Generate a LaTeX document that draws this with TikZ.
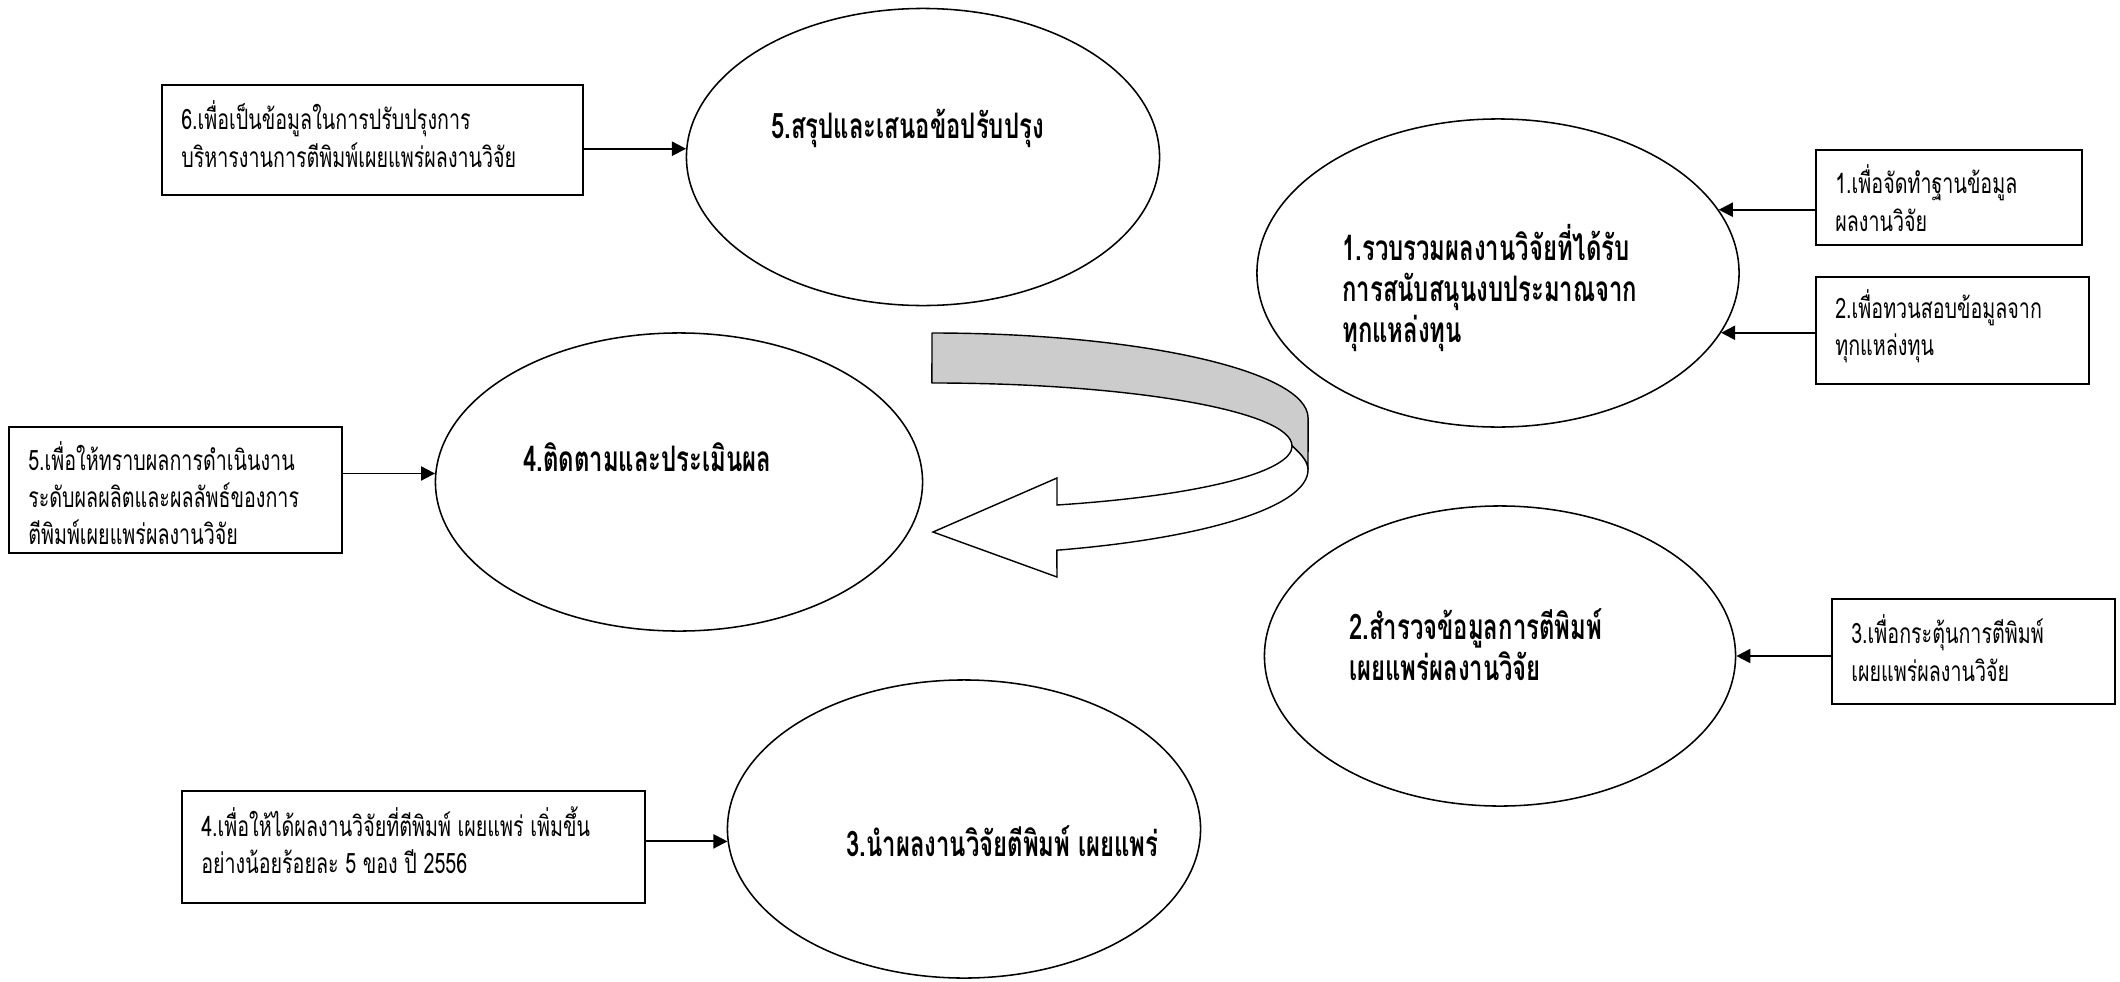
\documentclass[tikz,border=0pt]{standalone}
\usepackage{fontspec}
\setmainfont[Script=Thai]{Loma}
\newfontfamily\thai[Script=Thai,FakeStretch=0.70]{Loma}
\newfontfamily\thaibold[Script=Thai,FakeStretch=0.68]{Loma}
\usetikzlibrary{shapes.geometric,arrows.meta}
\begin{document}
\begin{tikzpicture}[x=0.025cm,y=0.025cm,
  ell/.style={draw, ellipse, line width=1.1pt, inner sep=0pt},
  obox/.style={draw, line width=1.5pt, inner sep=0pt},
  btxt/.style={anchor=west, align=left, inner sep=0pt, font=\thai\fontsize{20}{26.5}\selectfont},
  etxt/.style={anchor=west, align=left, inner sep=0pt, font=\thaibold\bfseries\fontsize{25}{29}\selectfont},
  conn/.style={line width=1.4pt, -{Triangle[length=10pt,width=10pt]}}]
\useasboundingbox (0,0) rectangle (2120,-981);

% ellipses
\node[ell, minimum width=11.825cm, minimum height=7.425cm] (E5) at (923,-157) {};
\node[ell, minimum width=12.05cm, minimum height=7.7cm] (E1) at (1498,-273) {};
\node[ell, minimum width=12.175cm, minimum height=7.45cm] (E4) at (679,-482) {};
\node[ell, minimum width=11.775cm, minimum height=7.5cm] (E2) at (1500,-656) {};
\node[ell, minimum width=11.825cm, minimum height=7.45cm] (E3) at (964,-829) {};

% boxes
\node[obox, minimum width=10.525cm, minimum height=2.75cm] (B6) at (372.5,-140) {};
\node[obox, minimum width=6.65cm, minimum height=2.375cm] (B1) at (1949,-197.5) {};
\node[obox, minimum width=6.825cm, minimum height=2.675cm] (B2) at (1952.5,-330.5) {};
\node[obox, minimum width=8.325cm, minimum height=3.15cm] (B5) at (175.5,-490) {};
\node[obox, minimum width=7.075cm, minimum height=2.625cm] (B3) at (1973.5,-651.5) {};
\node[obox, minimum width=11.575cm, minimum height=2.8cm] (B4) at (413.5,-847) {};

% box texts
\node[btxt] (T6) at (181,-134) {6.เพื่อเป็นข้อมูลในการปรับปรุงการ\\บริหารงานการตีพิมพ์เผยแพร่ผลงานวิจัย};
\node[btxt] (T1) at (1835,-198) {1.เพื่อจัดทำฐานข้อมูล\\ผลงานวิจัย};
\node[btxt] (T2) at (1835,-326) {2.เพื่อทวนสอบข้อมูลจาก\\ทุกแหล่งทุน};
\node[btxt] (T5) at (28,-493) {5.เพื่อให้ทราบผลการดำเนินงาน\\ระดับผลผลิตและผลลัพธ์ของการ\\ตีพิมพ์เผยแพร่ผลงานวิจัย};
\node[btxt] (T3) at (1851,-648) {3.เพื่อกระตุ้นการตีพิมพ์\\เผยแพร่ผลงานวิจัย};
\node[btxt] (T4) at (201,-840) {4.เพื่อให้ได้ผลงานวิจัยที่ตีพิมพ์ เผยแพร่ เพิ่มขึ้น\\อย่างน้อยร้อยละ 5 ของ ปี 2556};

% ellipse texts
\node[etxt] (L5) at (771,-128) {5.สรุปและเสนอข้อปรับปรุง};
\node[etxt] (L1) at (1342,-288) {1.รวบรวมผลงานวิจัยที่ได้รับ\\การสนับสนุนงบประมาณจาก\\ทุกแหล่งทุน};
\node[etxt] (L4) at (523,-457) {4.ติดตามและประเมินผล};
\node[etxt] (L2) at (1349,-645) {2.สำรวจข้อมูลการตีพิมพ์\\เผยแพร่ผลงานวิจัย};
\node[etxt] (L3) at (846,-841) {3.นำผลงานวิจัยตีพิมพ์ เผยแพร่};

% connectors
\draw[conn] (B6.east |- E5.178.5) -- (E5.178.5);
\draw[conn] (B1.west |- E1.16) -- (E1.16);
\draw[conn] (B2.west |- E1.-15) -- (E1.-15);
\draw[conn] (B5.east |- E4.178.3) -- (E4.178.3);
\draw[conn] (B3.west |- E2.east) -- (E2.east);
\draw[conn] (B4.east |- E3.183.6) -- (E3.183.6);

% curved 3D arrow
\filldraw[fill=black!20, line width=1pt, line join=round]
  (932,-333) arc[start angle=90, end angle=0, x radius=9.4cm, y radius=2.125cm]
  -- (1308,-470) .. controls (1308,-462) and (1302,-455) .. (1292,-446)
  arc[start angle=0, end angle=90, x radius=9cm, y radius=1.575cm] -- cycle;
\filldraw[fill=white, line width=1pt, line join=miter]
  (1308,-470) arc[start angle=0, end angle=-70.6, x radius=9.4cm, y radius=2.125cm]
  -- (1057,-577) -- (933,-532) -- (1057,-478) -- (1057,-505)
  arc[start angle=-69.7, end angle=0, x radius=9cm, y radius=1.575cm]
  .. controls (1302,-455) and (1308,-462) .. (1308,-470) -- cycle;
\end{tikzpicture}
\end{document}
